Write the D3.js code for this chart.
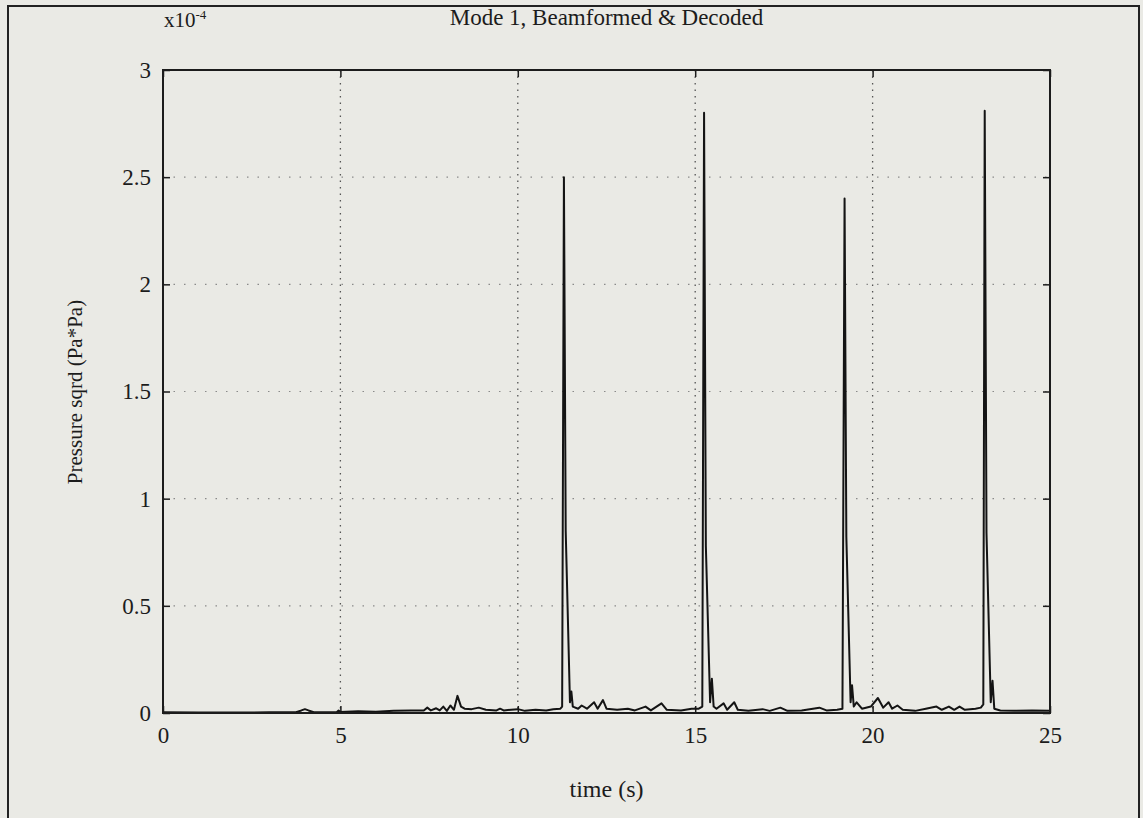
<!DOCTYPE html>
<html>
<head>
<meta charset="utf-8">
<script src="https://cdn.jsdelivr.net/npm/d3@7"></script>
<style>
  html, body { margin: 0; padding: 0; background: #eaeae5; }
  svg { display: block; }
  text { font-family: "Liberation Serif", "Times New Roman", serif; fill: #1c1c1c; }
</style>
</head>
<body>
<svg id="chart" width="1143" height="818"></svg>
<script>
// Beamformed & decoded mode-1 pressure squared, vertices of the trace
const timeS = [
  0.0, 1.0, 2.0, 3.0, 3.75, 3.9, 4.0, 4.1, 4.25, 4.9, 4.95, 5.0, 5.5, 6.0, 6.5, 7.0,
  7.35, 7.45, 7.55, 7.7, 7.8, 7.9, 8.0, 8.1, 8.2, 8.3, 8.4, 8.5, 8.7, 8.9, 9.1, 9.4,
  9.5, 9.6, 10.0, 10.2, 10.5, 10.8, 11.0, 11.2, 11.25,
  11.30, 11.35, 11.47, 11.51, 11.55,
  11.7, 11.8, 11.95, 12.15, 12.25, 12.4, 12.5, 12.8, 13.1, 13.3, 13.6, 13.75, 14.05,
  14.2, 14.6, 14.9, 15.1, 15.2,
  15.25, 15.30, 15.42, 15.47, 15.52,
  15.6, 15.8, 15.9, 16.1, 16.2, 16.5, 16.9, 17.1, 17.4, 17.6, 18.0, 18.5, 18.7, 19.0, 19.15,
  19.21, 19.26, 19.38, 19.42, 19.47,
  19.55, 19.7, 19.95, 20.15, 20.3, 20.45, 20.55, 20.7, 20.85, 21.2, 21.5, 21.8, 21.95,
  22.15, 22.3, 22.45, 22.6, 22.9, 23.05, 23.12,
  23.16, 23.21, 23.33, 23.38, 23.43,
  23.6, 24.0, 24.5, 25.0
];
// values in units of 1e-4 Pa*Pa
const pressureSq = [
  0.003, 0.002, 0.002, 0.003, 0.004, 0.012, 0.018, 0.012, 0.004, 0.005, 0.012, 0.005, 0.008, 0.006, 0.010, 0.012,
  0.012, 0.025, 0.012, 0.022, 0.012, 0.030, 0.010, 0.035, 0.015, 0.080, 0.030, 0.020, 0.018, 0.025, 0.015, 0.012,
  0.020, 0.012, 0.018, 0.010, 0.015, 0.012, 0.018, 0.020, 0.030,
  2.50, 0.85, 0.05, 0.10, 0.03,
  0.020, 0.035, 0.020, 0.050, 0.020, 0.060, 0.020, 0.015, 0.020, 0.012, 0.030, 0.012, 0.045,
  0.015, 0.012, 0.020, 0.020, 0.030,
  2.80, 0.78, 0.05, 0.16, 0.03,
  0.020, 0.045, 0.015, 0.050, 0.015, 0.010, 0.018, 0.010, 0.025, 0.010, 0.012, 0.025, 0.012, 0.015, 0.020,
  2.40, 0.82, 0.05, 0.13, 0.03,
  0.050, 0.020, 0.030, 0.070, 0.025, 0.050, 0.020, 0.035, 0.015, 0.010, 0.020, 0.030, 0.015,
  0.030, 0.015, 0.030, 0.015, 0.020, 0.025, 0.040,
  2.81, 0.84, 0.05, 0.15, 0.02,
  0.012, 0.010, 0.012, 0.010
];
const xTicks = [0, 5, 10, 15, 20, 25];
const xTickLabels = ["0", "5", "10", "15", "20", "25"];
const yTicks = [0, 0.5, 1, 1.5, 2, 2.5, 3];
const yTickLabels = ["0", "0.5", "1", "1.5", "2", "2.5", "3"];

const svg = d3.select("#chart");
const W = 1143, H = 818;
const m = { left: 163, right: 1050, top: 70, bottom: 713 };

// outer figure border (left, top, right edges)
svg.append("path")
  .attr("d", `M8,${H} L8,6 L1139,6 L1139,${H}`)
  .attr("fill", "none").attr("stroke", "#222").attr("stroke-width", 2);

const x = d3.scaleLinear().domain([0, 25]).range([m.left, m.right]);
const y = d3.scaleLinear().domain([0, 3]).range([m.bottom, m.top]);

// dotted grid: vertical lines darker, horizontal ones faint
svg.append("g").attr("stroke", "#555").attr("stroke-width", 1.3)
  .attr("stroke-dasharray", "1.5,5")
  .selectAll("line").data(xTicks.slice(1, -1)).join("line")
  .attr("x1", d => x(d)).attr("x2", d => x(d)).attr("y1", m.top).attr("y2", m.bottom);
svg.append("g").attr("stroke", "#8a8a8a").attr("stroke-width", 1.1)
  .attr("stroke-dasharray", "1.5,9")
  .selectAll("line").data(yTicks.slice(1, -1)).join("line")
  .attr("y1", d => y(d)).attr("y2", d => y(d)).attr("x1", m.left).attr("x2", m.right);

// axes with inward ticks
const fontSize = "23px";
const gx = svg.append("g").attr("transform", `translate(0,${m.bottom})`)
  .call(d3.axisBottom(x).tickValues(xTicks).tickFormat((d, i) => xTickLabels[i])
    .tickSizeInner(-7).tickSizeOuter(0).tickPadding(14));
const gy = svg.append("g").attr("transform", `translate(${m.left},0)`)
  .call(d3.axisLeft(y).tickValues(yTicks).tickFormat((d, i) => yTickLabels[i])
    .tickSizeInner(-7).tickSizeOuter(0).tickPadding(12));
const gt = svg.append("g").attr("transform", `translate(0,${m.top})`)
  .call(d3.axisTop(x).tickValues(xTicks).tickFormat("").tickSizeInner(-7).tickSizeOuter(0));
const gr = svg.append("g").attr("transform", `translate(${m.right},0)`)
  .call(d3.axisRight(y).tickValues(yTicks).tickFormat("").tickSizeInner(-7).tickSizeOuter(0));
[gx, gy, gt, gr].forEach(g => {
  g.select(".domain").remove();
  g.selectAll(".tick line").attr("stroke", "#1c1c1c").attr("stroke-width", 1.5);
  g.selectAll(".tick text").style("font-size", fontSize).style("font-family", '"Liberation Serif", serif')
    .attr("fill", "#1c1c1c");
});

// trace
const pts = timeS.map((t, i) => [t, pressureSq[i]]);
svg.append("path").datum(pts)
  .attr("fill", "none").attr("stroke", "#141414").attr("stroke-width", 2)
  .attr("stroke-linejoin", "round")
  .attr("d", d3.line().x(d => x(d[0])).y(d => y(d[1])));

// plot frame
svg.append("rect").attr("x", m.left).attr("y", m.top)
  .attr("width", m.right - m.left).attr("height", m.bottom - m.top)
  .attr("fill", "none").attr("stroke", "#1c1c1c").attr("stroke-width", 2);

// title, exponent, labels
svg.append("text").attr("x", (m.left + m.right) / 2).attr("y", 25)
  .attr("text-anchor", "middle").style("font-size", "23px")
  .text("Mode 1, Beamformed & Decoded");
const ex = svg.append("text").attr("x", 164).attr("y", 27).style("font-size", "21px");
ex.append("tspan").text("x10");
ex.append("tspan").attr("dy", -8).style("font-size", "13px").text("-4");

svg.append("text").attr("transform", "translate(82,392) rotate(-90)")
  .attr("text-anchor", "middle").style("font-size", "21px")
  .text("Pressure sqrd (Pa*Pa)");
svg.append("text").attr("x", (m.left + m.right) / 2).attr("y", 797)
  .attr("text-anchor", "middle").style("font-size", "24px")
  .text("time (s)");
</script>
</body>
</html>
